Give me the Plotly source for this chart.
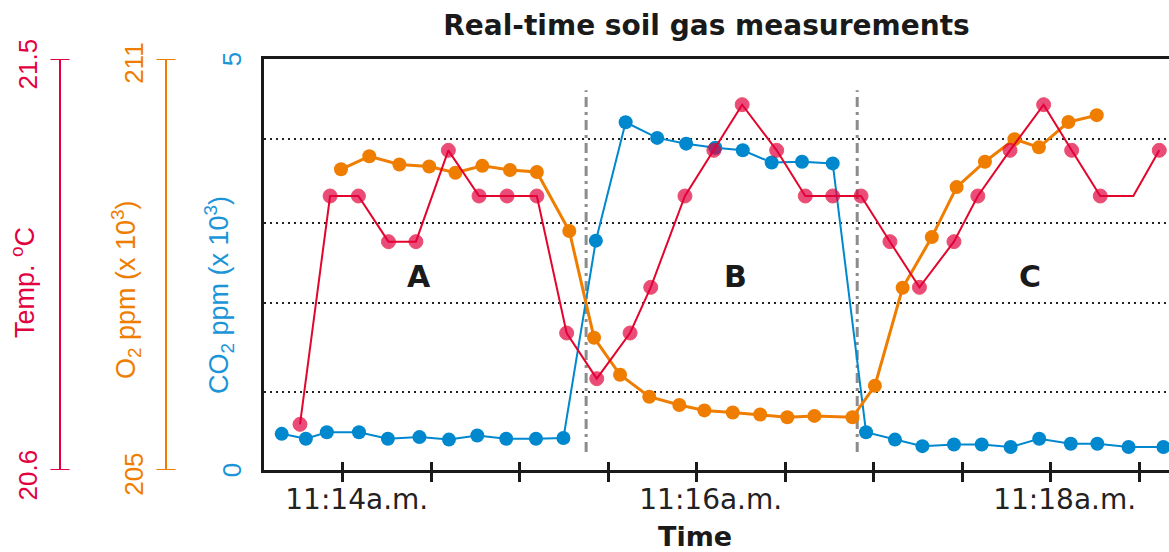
import plotly.graph_objects as go

# ---- measurements (time in seconds after 11:14:00) ----
co2_t = [-20.7, -12.5, -5.4, 5.5, 15.3, 26.0, 36.0, 45.6, 55.4, 65.5, 74.8,
         85.8, 95.9, 106.6, 116.4, 126.3, 135.6, 145.4, 155.7, 166.1,
         177.4, 187.2, 196.5, 207.2, 216.6, 226.4, 236.1, 246.8, 255.8, 266.4, 278.2]
co2_k = [0.44, 0.38, 0.46, 0.46, 0.38, 0.40, 0.37, 0.42, 0.38, 0.38, 0.39,
         2.79, 4.23, 4.04, 3.97, 3.92, 3.89, 3.74, 3.75, 3.73,
         0.46, 0.37, 0.29, 0.31, 0.31, 0.28, 0.38, 0.32, 0.32, 0.28, 0.28]

o2_t = [-0.6, 9.0, 19.2, 29.3, 38.2, 47.3, 56.7, 65.8, 76.8, 85.2, 94.0, 103.9,
        114.1, 122.6, 132.2, 141.5, 150.7, 159.9, 172.8, 180.4, 189.8, 199.7,
        208.1, 217.7, 227.7, 236.0, 246.0, 255.6]
o2_k = [209.39, 209.58, 209.46, 209.43, 209.34, 209.44, 209.38, 209.35, 208.49,
        206.93, 206.39, 206.07, 205.95, 205.87, 205.84, 205.81, 205.77, 205.79,
        205.77, 206.23, 207.66, 208.40, 209.13, 209.50, 209.83, 209.71, 210.08, 210.18]

temp_t = [-14.5, -4.3, 5.3, 15.5, 24.8, 35.8, 46.2, 55.7, 65.8, 75.9, 86.1, 97.4,
          104.4, 116.0, 125.8, 135.4, 147.1, 156.8, 166.1, 175.7, 185.5, 195.5,
          207.2, 215.3, 226.2, 237.6, 247.1, 256.8, 268.0, 276.8]
temp_c = [20.7, 21.2, 21.2, 21.1, 21.1, 21.3, 21.2, 21.2, 21.2, 20.9, 20.8, 20.9,
          21.0, 21.2, 21.3, 21.4, 21.3, 21.2, 21.2, 21.2, 21.1, 21.0,
          21.1, 21.2, 21.3, 21.4, 21.3, 21.2, 21.2, 21.3]
temp_unmarked = [268.0]          # reading logged without a plotted dot

# phase boundaries and phase labels
phase_breaks = [82.5, 174.4]
phase_names = ["A", "B", "C"]
phase_label_t = [26, 133, 233]
phase_label_level = 2.35

# time axis ticks
tick_secs = [0, 30, 60, 90, 120, 150, 180, 210, 240, 270]
tick_text = ["11:14a.m.", "", "", "", "11:16a.m.", "", "", "", "11:18a.m.", ""]

# reference levels on the CO2 scale
co2_guides = [0.95, 2.03, 3.01, 4.03]

# axis ranges
co2_range = [0, 5]
o2_range = [205, 211]
temp_range = [20.6, 21.5]
x_range = [-26.7, 280.1]

# ---- styling ----
W, H = 1169, 552
M_TOP, M_BOT = 59, 82
PLOT_LEFT = 264
TEMP_X = 60
O2_X = 166
RED, RED_LINE = "#E2003F", "#E2062C"
ORANGE = "#EF7D00"
BLUE = "#0088CE"
BLUE_TXT = "#1B95D8"
INK = "#1a1a1a"
SANS = "Liberation Sans"
VERD = "DejaVu Sans"

fig = go.Figure()

temp_sizes = [0 if t in temp_unmarked else 14 for t in temp_t]
fig.add_trace(go.Scatter(x=temp_t, y=temp_c, yaxis="y3", mode="lines+markers",
                         line=dict(color=RED_LINE, width=2),
                         marker=dict(color=RED, size=temp_sizes),
                         name="Temp", hoverinfo="skip"))
fig.add_trace(go.Scatter(x=o2_t, y=o2_k, yaxis="y2", mode="lines+markers",
                         line=dict(color=ORANGE, width=3),
                         marker=dict(color=ORANGE, size=14),
                         name="O2", hoverinfo="skip"))
fig.add_trace(go.Scatter(x=co2_t, y=co2_k, yaxis="y", mode="lines+markers",
                         line=dict(color=BLUE, width=2),
                         marker=dict(color=BLUE, size=14),
                         name="CO2", hoverinfo="skip"))
# carrier for the inward tick marks on the time axis
fig.add_trace(go.Scatter(x=[x_range[0]], y=[co2_range[0]], xaxis="x2", mode="markers",
                         marker=dict(size=0, opacity=0), hoverinfo="skip", showlegend=False))

x_dom = [PLOT_LEFT / W, 1]
fig.update_layout(
    width=W, height=H,
    margin=dict(l=0, r=0, t=M_TOP, b=M_BOT),
    plot_bgcolor="white", paper_bgcolor="white",
    showlegend=False,
    title=dict(text="Real-time soil gas measurements", x=706.5 / W, xanchor="center",
               y=1 - 25 / H, yanchor="middle",
               font=dict(family=VERD, size=28, weight="bold", color=INK)),
    xaxis=dict(domain=x_dom, range=x_range, tickmode="array", tickvals=tick_secs,
               ticktext=tick_text, ticks="outside", ticklen=9, tickwidth=3, tickcolor=INK,
               showline=True, linewidth=3, linecolor=INK, mirror=True,
               showgrid=False, zeroline=False, ticklabelshift=14, ticklabelstandoff=-7,
               tickfont=dict(family=VERD, size=28, color="#222")),
    xaxis2=dict(domain=x_dom, range=x_range, overlaying="x", anchor="y", side="bottom",
                tickmode="array", tickvals=tick_secs, showticklabels=False,
                ticks="inside", ticklen=8, tickwidth=3, tickcolor=INK,
                showline=False, showgrid=False, zeroline=False),
    yaxis=dict(range=co2_range, tickmode="array", tickvals=co2_range,
               ticktext=[str(v) for v in co2_range], tickangle=-90, ticks="",
               showline=True, linewidth=3, linecolor=INK, showgrid=False, zeroline=False,
               ticklabelstandoff=10, ticklabelshift=4,
               tickfont=dict(family=SANS, size=26, color=BLUE_TXT),
               minor=dict(tickmode="array", tickvals=co2_guides, showgrid=True,
                          gridcolor="#222", gridwidth=2, griddash="2px,4px", ticks="")),
    yaxis2=dict(range=o2_range, overlaying="y", anchor="free", position=O2_X / W, side="left",
                tickmode="array", tickvals=o2_range, ticktext=[str(v) for v in o2_range],
                tickangle=-90, ticks="", showline=True, linewidth=2, linecolor=ORANGE,
                showgrid=False, zeroline=False, ticklabelstandoff=12, ticklabelshift=8,
                tickfont=dict(family=SANS, size=26, color=ORANGE)),
    yaxis3=dict(range=temp_range, overlaying="y", anchor="free", position=TEMP_X / W, side="left",
                tickmode="array", tickvals=temp_range, ticktext=[str(v) for v in temp_range],
                tickangle=-90, ticks="", showline=True, linewidth=2, linecolor=RED,
                showgrid=False, zeroline=False, ticklabelstandoff=12, ticklabelshift=9,
                tickfont=dict(family=SANS, size=26, color=RED)),
)

# end caps on the two free scales
shapes = []
for ax, xc, col, rng in (("y3", TEMP_X, RED, temp_range), ("y2", O2_X, ORANGE, o2_range)):
    for v in rng:
        shapes.append(dict(type="line", xref="paper", yref=ax,
                           x0=(xc - 9.5) / W, x1=(xc + 9.5) / W, y0=v, y1=v,
                           line=dict(color=col, width=2)))
# phase boundaries
for t in phase_breaks:
    shapes.append(dict(type="line", xref="x", yref="y", x0=t, x1=t, y0=0.22, y1=4.62,
                       layer="below", line=dict(color="#8c8c8c", width=3,
                                                dash="10px,5px,3px,5px")))
fig.update_layout(shapes=shapes)

ann = []
for name, t in zip(phase_names, phase_label_t):
    ann.append(dict(x=t, y=phase_label_level, xref="x", yref="y", text=name, showarrow=False,
                    xanchor="center", yanchor="middle",
                    font=dict(family=VERD, size=30, weight="bold", color=INK)))


def py_to_paper(py):
    return (H - M_BOT - py) / (H - M_BOT - M_TOP)


def side_label(px, py, text, size, color, family, angle=0, weight="normal"):
    return dict(x=px / W, y=py_to_paper(py), xref="paper", yref="paper", text=text,
                textangle=angle, showarrow=False, xanchor="center", yanchor="middle",
                font=dict(family=family, size=size, color=color, weight=weight))


ann.append(side_label(694.5, 536, "Time", 27, INK, VERD, weight="bold"))
ann.append(side_label(23, 283, "Temp. <sup>o</sup>C", 27, RED, SANS, -90))
ann.append(side_label(126, 290, "O<sub>2</sub> ppm (x 10<sup>3</sup>)", 27, ORANGE, SANS, -90))
ann.append(side_label(219, 295, "CO<sub>2</sub> ppm (x 10<sup>3</sup>)", 27, BLUE_TXT, SANS, -90))
fig.update_layout(annotations=ann)

fig.write_html("out.html")
